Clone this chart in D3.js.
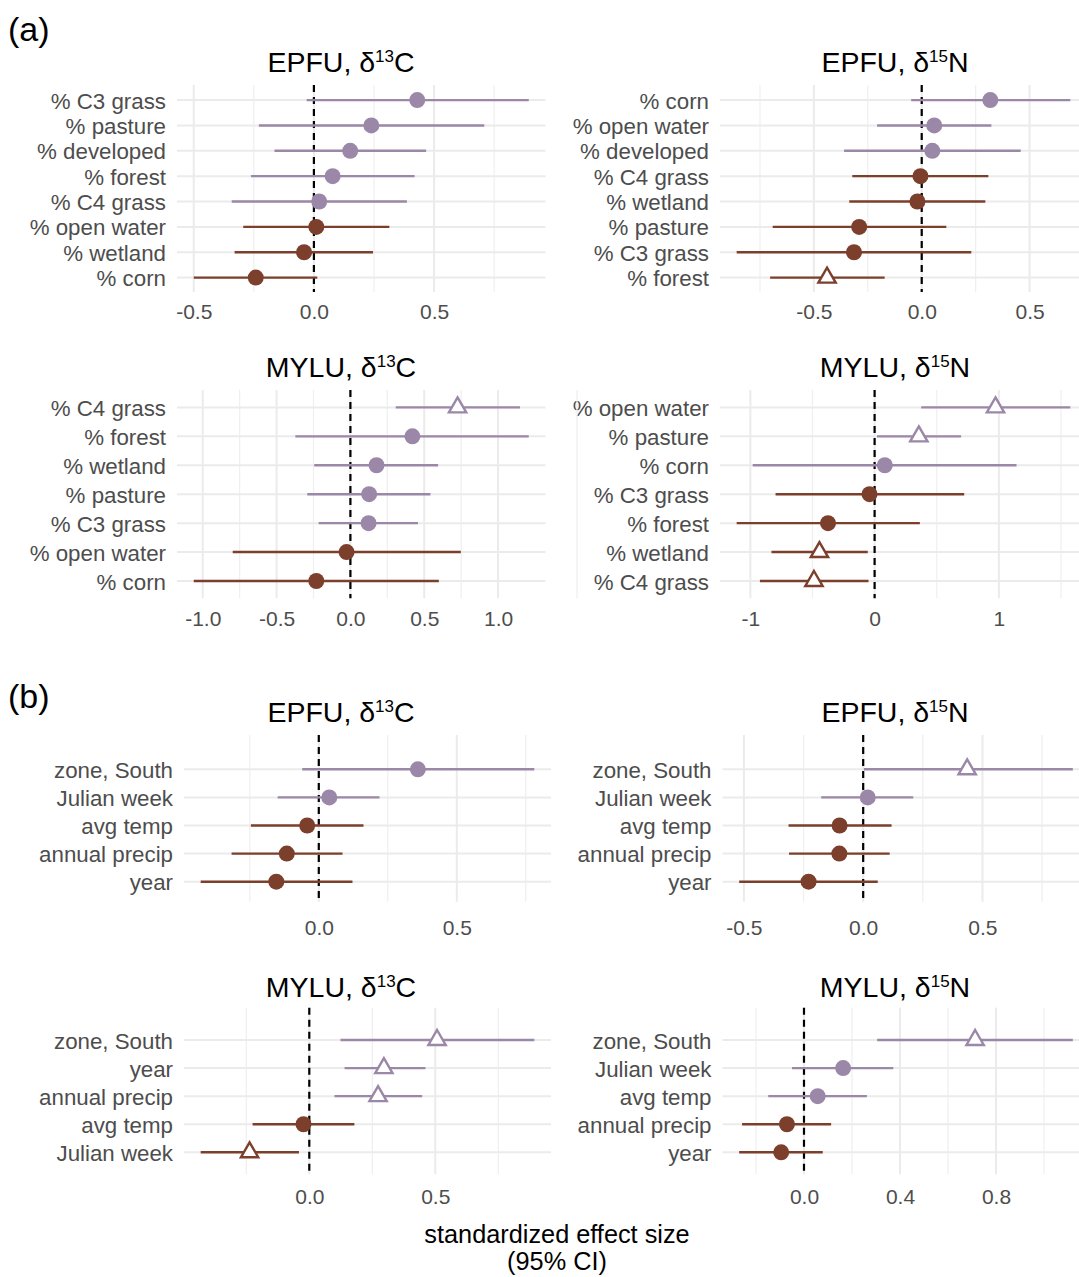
<!DOCTYPE html>
<html>
<head>
<meta charset="utf-8">
<script src="https://cdn.jsdelivr.net/npm/d3@7"></script>
<style>
  body { margin: 0; background: #fff; }
  svg { display: block; font-family: "Liberation Sans", Arial, Helvetica, sans-serif; }
  .grid-major { stroke: #ebebeb; stroke-width: 2; }
  .grid-minor { stroke: #efefef; stroke-width: 1.2; }
  .tick-text { fill: #4d4d4d; font-size: 21px; }
  .label-text { fill: #4d4d4d; font-size: 22.3px; }
  .panel-title { fill: #000; font-size: 28.5px; }
  .tag { fill: #000; font-size: 34px; }
  .axis-title { fill: #000; font-size: 25.3px; }
</style>
</head>
<body>
<div id="chart"><svg width="1079" height="1277"></svg></div>
<script>
// (a) land cover models, rows listed top to bottom
const labelsA1 = ["% C3 grass", "% pasture", "% developed", "% forest", "% C4 grass", "% open water", "% wetland", "% corn"];
const estA1 = [0.43, 0.239, 0.151, 0.078, 0.022, 0.01, -0.041, -0.242];
const loA1 = [-0.03, -0.229, -0.164, -0.262, -0.342, -0.294, -0.33, -0.5];
const hiA1 = [0.894, 0.709, 0.467, 0.419, 0.387, 0.314, 0.246, 0.014];
const dirA1 = [1, 1, 1, 1, 1, -1, -1, -1];

const labelsA2 = ["% corn", "% open water", "% developed", "% C4 grass", "% wetland", "% pasture", "% C3 grass", "% forest"];
const estA2 = [0.318, 0.058, 0.049, -0.006, -0.02, -0.29, -0.314, -0.439];
const loA2 = [-0.049, -0.207, -0.36, -0.322, -0.336, -0.691, -0.858, -0.703];
const hiA2 = [0.689, 0.323, 0.459, 0.309, 0.295, 0.114, 0.23, -0.172];
const dirA2 = [1, 1, 1, -1, -1, -1, -1, -1];

const labelsA3 = ["% C4 grass", "% forest", "% wetland", "% pasture", "% C3 grass", "% open water", "% corn"];
const estA3 = [0.726, 0.42, 0.177, 0.127, 0.123, -0.026, -0.231];
const loA3 = [0.307, -0.373, -0.245, -0.292, -0.215, -0.797, -1.061];
const hiA3 = [1.149, 1.208, 0.594, 0.542, 0.458, 0.748, 0.599];
const dirA3 = [1, 1, 1, 1, 1, -1, -1];

const labelsA4 = ["% open water", "% pasture", "% corn", "% C3 grass", "% forest", "% wetland", "% C4 grass"];
const estA4 = [0.973, 0.356, 0.082, -0.041, -0.375, -0.444, -0.488];
const loA4 = [0.375, 0.019, -0.981, -0.797, -1.11, -0.83, -0.923];
const hiA4 = [1.575, 0.696, 1.142, 0.721, 0.364, -0.055, -0.049];
const dirA4 = [1, 1, 1, -1, -1, -1, -1];

// (b) climate / time models
const labelsB1 = ["zone, South", "Julian week", "avg temp", "annual precip", "year"];
const estB1 = [0.359, 0.038, -0.042, -0.116, -0.154];
const loB1 = [-0.06, -0.149, -0.246, -0.316, -0.428];
const hiB1 = [0.781, 0.22, 0.162, 0.086, 0.122];
const dirB1 = [1, 1, -1, -1, -1];

const labelsB2 = ["zone, South", "Julian week", "avg temp", "annual precip", "year"];
const estB2 = [0.436, 0.019, -0.099, -0.1, -0.229];
const loB2 = [0.003, -0.176, -0.313, -0.311, -0.52];
const hiB2 = [0.879, 0.21, 0.119, 0.111, 0.061];
const dirB2 = [1, 1, -1, -1, -1];

const labelsB3 = ["zone, South", "year", "annual precip", "avg temp", "Julian week"];
const estB3 = [0.507, 0.296, 0.273, -0.023, -0.237];
const loB3 = [0.124, 0.14, 0.1, -0.225, -0.431];
const hiB3 = [0.893, 0.461, 0.448, 0.179, -0.041];
const dirB3 = [1, 1, 1, -1, -1];

const labelsB4 = ["zone, South", "Julian week", "avg temp", "annual precip", "year"];
const estB4 = [0.713, 0.163, 0.057, -0.071, -0.095];
const loB4 = [0.305, -0.05, -0.149, -0.258, -0.27];
const hiB4 = [1.12, 0.372, 0.262, 0.113, 0.078];
const dirB4 = [1, 1, 1, -1, -1];

// x tick labels and minor grid values
const ticksA1 = ["-0.5", "0.0", "0.5"], minorA1 = [-0.25, 0.25, 0.75];
const ticksA2 = ["-0.5", "0.0", "0.5"], minorA2 = [-0.75, -0.25, 0.25, 0.75];
const ticksA3 = ["-1.0", "-0.5", "0.0", "0.5", "1.0"], minorA3 = [-0.75, -0.25, 0.25, 0.75];
const ticksA4 = ["-1", "0", "1"], minorA4 = [-0.5, 0.5, 1.5];
const ticksB1 = ["0.0", "0.5"], minorB1 = [-0.25, 0.25, 0.75];
const ticksB2 = ["-0.5", "0.0", "0.5"], minorB2 = [-0.25, 0.25, 0.75];
const ticksB3 = ["0.0", "0.5"], minorB3 = [-0.25, 0.25, 0.75];
const ticksB4 = ["0.0", "0.4", "0.8"], minorB4 = [-0.2, 0.2, 0.6, 1.0];

// one entry per row of panels
const species = ["EPFU", "MYLU", "EPFU", "MYLU"];
const isoMass = ["13", "15"];
const isoElement = ["C", "N"];

const purple = "#9b87a7";
const brown = "#7b3f2c";

// layout (pixels)
const colX = [
  [[177, 545.5], [720, 1087]],   // part (a)
  [[184, 551], [722.5, 1089.5]], // part (b)
];
const titleX = [341, 895];
const rowLayout = [
  { gridTop: 85, gridBottom: 292, rowTop: 100.1, rowBottom: 277.6, title: 71.7, tick: 319 },
  { gridTop: 390, gridBottom: 598.3, rowTop: 407.4, rowBottom: 581, title: 376.7, tick: 626 },
  { gridTop: 735, gridBottom: 901.7, rowTop: 769.3, rowBottom: 881.7, title: 721.7, tick: 935 },
  { gridTop: 1007.7, gridBottom: 1174.3, rowTop: 1040, rowBottom: 1152.3, title: 996.7, tick: 1204 },
];

const panels = [
  { labels: labelsA1, est: estA1, lo: loA1, hi: hiA1, dir: dirA1, ticks: ticksA1, minor: minorA1, row: 0, col: 0 },
  { labels: labelsA2, est: estA2, lo: loA2, hi: hiA2, dir: dirA2, ticks: ticksA2, minor: minorA2, row: 0, col: 1 },
  { labels: labelsA3, est: estA3, lo: loA3, hi: hiA3, dir: dirA3, ticks: ticksA3, minor: minorA3, row: 1, col: 0 },
  { labels: labelsA4, est: estA4, lo: loA4, hi: hiA4, dir: dirA4, ticks: ticksA4, minor: minorA4, row: 1, col: 1 },
  { labels: labelsB1, est: estB1, lo: loB1, hi: hiB1, dir: dirB1, ticks: ticksB1, minor: minorB1, row: 2, col: 0 },
  { labels: labelsB2, est: estB2, lo: loB2, hi: hiB2, dir: dirB2, ticks: ticksB2, minor: minorB2, row: 2, col: 1 },
  { labels: labelsB3, est: estB3, lo: loB3, hi: hiB3, dir: dirB3, ticks: ticksB3, minor: minorB3, row: 3, col: 0 },
  { labels: labelsB4, est: estB4, lo: loB4, hi: hiB4, dir: dirB4, ticks: ticksB4, minor: minorB4, row: 3, col: 1 },
];

const svg = d3.select("#chart").select("svg");
svg.append("rect").attr("width", 1079).attr("height", 1277).attr("fill", "#fff");

panels.forEach(drawPanel);

function drawPanel(p) {
  const L = rowLayout[p.row];
  const [x0, x1] = colX[p.row < 2 ? 0 : 1][p.col];
  const rows = p.labels.map((label, i) => ({
    label,
    est: p.est[i],
    lo: p.lo[i],
    hi: p.hi[i],
    color: p.dir[i] > 0 ? purple : brown,
    sig: p.lo[i] > 0 || p.hi[i] < 0,
  }));

  // ggplot-like 5% expansion of the data range
  const ext = [d3.min(rows, (d) => d.lo), d3.max(rows, (d) => d.hi)];
  const pad = (ext[1] - ext[0]) * 0.05;
  const x = d3.scaleLinear().domain([ext[0] - pad, ext[1] + pad]).range([x0, x1]);
  const y = d3.scalePoint().domain(p.labels).range([L.rowTop, L.rowBottom]);

  const g = svg.append("g").attr("class", "panel");

  g.selectAll(".grid-minor")
    .data(p.minor)
    .enter()
    .append("line")
    .attr("class", "grid-minor")
    .attr("x1", (d) => x(d))
    .attr("x2", (d) => x(d))
    .attr("y1", L.gridTop)
    .attr("y2", L.gridBottom);

  const tickVals = p.ticks.map((t) => +t);
  g.selectAll(".grid-vx")
    .data(tickVals)
    .enter()
    .append("line")
    .attr("class", "grid-major grid-vx")
    .attr("x1", (d) => x(d))
    .attr("x2", (d) => x(d))
    .attr("y1", L.gridTop)
    .attr("y2", L.gridBottom);

  g.selectAll(".grid-hy")
    .data(p.labels)
    .enter()
    .append("line")
    .attr("class", "grid-major grid-hy")
    .attr("x1", x0)
    .attr("x2", x1)
    .attr("y1", (d) => y(d))
    .attr("y2", (d) => y(d));

  // zero reference
  g.append("line")
    .attr("x1", x(0))
    .attr("x2", x(0))
    .attr("y1", L.gridTop)
    .attr("y2", L.gridBottom)
    .attr("stroke", "#000")
    .attr("stroke-width", 2.2)
    .attr("stroke-dasharray", "7,5");

  // x axis labels
  const xAxis = d3
    .axisBottom(x)
    .tickValues(tickVals)
    .tickFormat((d, i) => p.ticks[i])
    .tickSize(0);
  const gx = g.append("g").attr("transform", `translate(0, ${L.gridBottom})`).call(xAxis);
  gx.select(".domain").remove();
  gx.attr("font-family", null).attr("font-size", null);
  gx.selectAll("text")
    .attr("class", "tick-text")
    .attr("y", L.tick - L.gridBottom)
    .attr("dy", 0)
    .attr("fill", null);

  // y axis labels
  const yAxis = d3.axisLeft(y).tickSize(0).tickPadding(11);
  const gy = g.append("g").attr("transform", `translate(${x0}, 0)`).call(yAxis);
  gy.select(".domain").remove();
  gy.attr("font-family", null).attr("font-size", null);
  gy.selectAll("text")
    .attr("class", "label-text")
    .attr("dy", "0.36em")
    .attr("fill", null);

  // confidence intervals
  g.selectAll(".ci")
    .data(rows)
    .enter()
    .append("line")
    .attr("class", "ci")
    .attr("x1", (d) => x(d.lo))
    .attr("x2", (d) => x(d.hi))
    .attr("y1", (d) => y(d.label))
    .attr("y2", (d) => y(d.label))
    .attr("stroke", (d) => d.color)
    .attr("stroke-width", 2.4);

  g.selectAll(".dot")
    .data(rows.filter((d) => !d.sig))
    .enter()
    .append("circle")
    .attr("class", "dot")
    .attr("cx", (d) => x(d.est))
    .attr("cy", (d) => y(d.label))
    .attr("r", 8)
    .attr("fill", (d) => d.color);

  g.selectAll(".tri")
    .data(rows.filter((d) => d.sig))
    .enter()
    .append("path")
    .attr("class", "tri")
    .attr("d", d3.symbol(d3.symbolTriangle, 130))
    .attr("transform", (d) => `translate(${x(d.est)}, ${y(d.label)})`)
    .attr("fill", "#fff")
    .attr("stroke", (d) => d.color)
    .attr("stroke-width", 2.4);

  // title, e.g. EPFU, δ13C
  const title = g
    .append("text")
    .attr("class", "panel-title")
    .attr("x", titleX[p.col])
    .attr("y", L.title)
    .attr("text-anchor", "middle");
  title.append("tspan").text(`${species[p.row]}, δ`);
  title.append("tspan").attr("font-size", 17).attr("dy", -10).text(isoMass[p.col]);
  title.append("tspan").attr("dy", 10).text(isoElement[p.col]);
}

// faint guide line left of the MYLU δ15N labels, as in the original
svg.append("line")
  .attr("class", "grid-minor")
  .attr("x1", 577)
  .attr("x2", 577)
  .attr("y1", rowLayout[1].gridTop)
  .attr("y2", rowLayout[1].gridBottom);

svg.append("text").attr("class", "tag").attr("x", 8).attr("y", 41).text("(a)");
svg.append("text").attr("class", "tag").attr("x", 8).attr("y", 708).text("(b)");

svg.append("text")
  .attr("class", "axis-title")
  .attr("x", 557)
  .attr("y", 1243)
  .attr("text-anchor", "middle")
  .text("standardized effect size");
svg.append("text")
  .attr("class", "axis-title")
  .attr("x", 557)
  .attr("y", 1270)
  .attr("text-anchor", "middle")
  .text("(95% CI)");
</script>
</body>
</html>
